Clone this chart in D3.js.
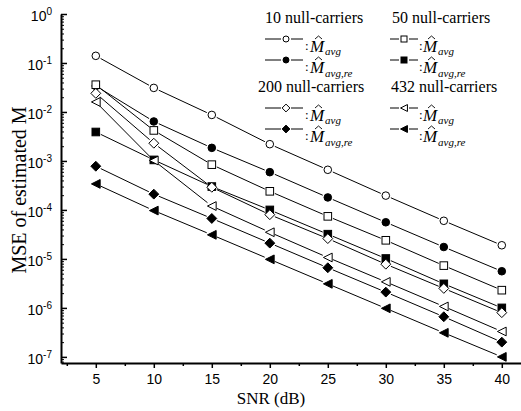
<!DOCTYPE html>
<html>
<head>
<meta charset="utf-8">
<script src="https://cdn.jsdelivr.net/npm/d3@7/dist/d3.min.js"></script>
<style>
  body { margin: 0; background: #fff; }
  svg { display: block; }
</style>
</head>
<body>
<svg width="521" height="411"></svg>
<script>
// SNR values (dB)
const snr = [5, 10, 15, 20, 25, 30, 35, 40];

// MSE, one array per curve
const avg10   = [0.14, 0.031, 0.0087, 0.0022, 6.6e-4, 1.96e-4, 6.0e-5, 1.9e-5];
const avgRe10 = [0.034, 0.0064, 0.00185, 5.9e-4, 1.8e-4, 5.6e-5, 1.75e-5, 5.6e-6];
const avg50   = [0.036, 0.0042, 8.4e-4, 2.4e-4, 7.4e-5, 2.4e-5, 7.3e-6, 2.3e-6];
const avgRe50 = [0.0039, 0.00105, 3.0e-4, 1.0e-4, 3.2e-5, 1.02e-5, 3.1e-6, 1.0e-6];
const avg200  = [0.024, 0.0023, 2.9e-4, 8.0e-5, 2.6e-5, 7.8e-6, 2.5e-6, 8.0e-7];
const avgRe200 = [7.8e-4, 2.1e-4, 6.7e-5, 2.1e-5, 6.6e-6, 2.1e-6, 6.6e-7, 2.0e-7];
const avg432  = [0.016, 0.00102, 1.2e-4, 3.5e-5, 1.07e-5, 3.4e-6, 1.07e-6, 3.3e-7];
const avgRe432 = [3.4e-4, 9.7e-5, 3.1e-5, 9.8e-6, 3.1e-6, 9.8e-7, 3.1e-7, 1.0e-7];

const series = [
  {vals: avg10, sym: 'circle', fill: false},
  {vals: avgRe10, sym: 'circle', fill: true},
  {vals: avg50, sym: 'square', fill: false},
  {vals: avgRe50, sym: 'square', fill: true},
  {vals: avg200, sym: 'diamond', fill: false},
  {vals: avgRe200, sym: 'diamond', fill: true},
  {vals: avg432, sym: 'triangle', fill: false},
  {vals: avgRe432, sym: 'triangle', fill: true}
];

const legendGroups = [
  {title: '10 null-carriers', a: 0, b: 1},
  {title: '50 null-carriers', a: 2, b: 3},
  {title: '200 null-carriers', a: 4, b: 5},
  {title: '432 null-carriers', a: 6, b: 7}
];

const xTicks = [5, 10, 15, 20, 25, 30, 35, 40];
const xMinor = [2.5, 7.5, 12.5, 17.5, 22.5, 27.5, 32.5, 37.5];
const yExp = [0, -1, -2, -3, -4, -5, -6, -7];

const serif = "'Liberation Serif', 'Times New Roman', serif";
const sans = "'Liberation Sans', Arial, sans-serif";

const svg = d3.select('svg');
const x = d3.scaleLinear().domain([2, 42]).range([61, 525]);
const y = d3.scaleLog().domain([7.5e-8, 1]).range([363, 14]);

// marker drawing
function marker(g, sym, fill, cx, cy, s) {
  let el;
  if (sym === 'circle') {
    el = g.append('circle').attr('cx', cx).attr('cy', cy).attr('r', s);
  } else if (sym === 'square') {
    el = g.append('rect').attr('x', cx - s).attr('y', cy - s)
      .attr('width', 2 * s).attr('height', 2 * s);
  } else if (sym === 'diamond') {
    const d = s * 1.3;
    el = g.append('path').attr('d', `M${cx},${cy - d}L${cx + d},${cy}L${cx},${cy + d}L${cx - d},${cy}Z`);
  } else {
    const d = s * 1.15;
    el = g.append('path').attr('d', `M${cx - d},${cy}L${cx + d},${cy - d}L${cx + d},${cy + d}Z`);
  }
  el.attr('fill', fill ? '#000' : '#fff').attr('stroke', '#000').attr('stroke-width', 1);
}

// axes
const yMinorVals = [];
for (let e = -8; e < 0; e++) for (let m = 2; m <= 9; m++) {
  const v = m * Math.pow(10, e);
  if (v >= 7.5e-8 && v <= 1) yMinorVals.push(v);
}

svg.append('g').attr('transform', 'translate(61,0)')
  .call(d3.axisLeft(y).tickValues(yMinorVals).tickSize(-3).tickFormat(''))
  .call(g => g.select('.domain').remove())
  .selectAll('line').attr('stroke-width', 1);

const yAx = svg.append('g').attr('transform', 'translate(61,0)')
  .call(d3.axisLeft(y).tickValues(yExp.map(e => Math.pow(10, e))).tickSizeInner(-6).tickSizeOuter(0).tickPadding(9));
yAx.select('.domain').attr('stroke-width', 2);
yAx.selectAll('.tick line').attr('stroke-width', 1.5);
yAx.selectAll('.tick text').each(function(d) {
  const t = d3.select(this).text('')
    .attr('font-family', sans).attr('font-size', 14)
    .attr('dy', '0.45em').attr('fill', '#000');
  t.append('tspan').text('10');
  t.append('tspan').text(Math.round(Math.log10(d))).attr('font-size', 10).attr('dy', '-0.6em');
});

svg.append('g').attr('transform', 'translate(0,363)')
  .call(d3.axisBottom(x).tickValues(xMinor).tickSize(3).tickFormat(''))
  .call(g => g.select('.domain').remove())
  .selectAll('line').attr('stroke-width', 1.5);

const xAx = svg.append('g').attr('transform', 'translate(0,363)')
  .call(d3.axisBottom(x).tickValues(xTicks).tickSizeInner(5).tickSizeOuter(0).tickPadding(6));
xAx.select('.domain').attr('stroke-width', 2);
xAx.selectAll('.tick line').attr('stroke-width', 1.5);
xAx.selectAll('.tick text').attr('font-family', sans)
  .attr('font-size', 14).attr('fill', '#000');

// axis titles
svg.append('text').attr('x', 271).attr('y', 404).attr('text-anchor', 'middle')
  .attr('font-family', serif).attr('font-size', 17)
  .text('SNR (dB)');
svg.append('text').attr('transform', 'translate(26,190) rotate(-90)').attr('text-anchor', 'middle')
  .attr('font-family', serif).attr('font-size', 20)
  .text('MSE of estimated M');

// data lines with a gap at each marker
const gap = 5.5;
const plot = svg.append('g');
series.forEach(s => {
  const pts = snr.map((v, i) => [x(v), y(s.vals[i])]);
  for (let i = 0; i < pts.length - 1; i++) {
    const [x1, y1] = pts[i], [x2, y2] = pts[i + 1];
    const L = Math.hypot(x2 - x1, y2 - y1);
    const ux = (x2 - x1) / L, uy = (y2 - y1) / L;
    plot.append('line')
      .attr('x1', x1 + ux * gap).attr('y1', y1 + uy * gap)
      .attr('x2', x2 - ux * gap).attr('y2', y2 - uy * gap)
      .attr('stroke', '#000').attr('stroke-width', 1);
  }
});
series.forEach(s => {
  snr.forEach((v, i) => marker(plot, s.sym, s.fill, x(v), y(s.vals[i]), 3.8));
});

// legend
const lg = svg.append('g').attr('font-family', serif);
const gpos = [
  {tx: 265, ty: 23, lx: 265, mx: 286, ex: 303, cx: 305, Mx: 310},
  {tx: 392, ty: 23, lx: 390, mx: 404, ex: 418, cx: 419, Mx: 423},
  {tx: 258, ty: 92, lx: 265, mx: 286, ex: 303, cx: 305, Mx: 310},
  {tx: 391, ty: 92, lx: 390, mx: 404, ex: 418, cx: 419, Mx: 423}
];
legendGroups.forEach((gr, k) => {
  const p = gpos[k];
  lg.append('text').attr('x', p.tx).attr('y', p.ty).attr('font-size', 16).text(gr.title);
  [gr.a, gr.b].forEach((si, r) => {
    const my = p.ty + 16 + r * 21;
    const s = series[si];
    lg.append('line').attr('x1', p.lx).attr('x2', p.mx - 5).attr('y1', my).attr('y2', my).attr('stroke', '#000');
    lg.append('line').attr('x1', p.mx + 5).attr('x2', p.ex).attr('y1', my).attr('y2', my).attr('stroke', '#000');
    marker(lg, s.sym, s.fill, p.mx, my, 3);
    const by = my + 13;
    lg.append('text').attr('x', p.cx).attr('y', by - 2).attr('font-size', 13).text(':');
    lg.append('text').attr('x', p.Mx).attr('y', by).attr('font-size', 17).attr('font-style', 'italic').text('M');
    // hat over M
    lg.append('path')
      .attr('d', `M${p.Mx + 5},${by - 13}L${p.Mx + 8.5},${by - 16}L${p.Mx + 12},${by - 13}`)
      .attr('fill', 'none').attr('stroke', '#000').attr('stroke-width', 0.9);
    lg.append('text').attr('x', p.Mx + 15).attr('y', by + (r === 0 ? 3 : 4))
      .attr('font-size', 11).attr('font-style', 'italic').text(r === 0 ? 'avg' : 'avg,re');
  });
});
</script>
</body>
</html>
